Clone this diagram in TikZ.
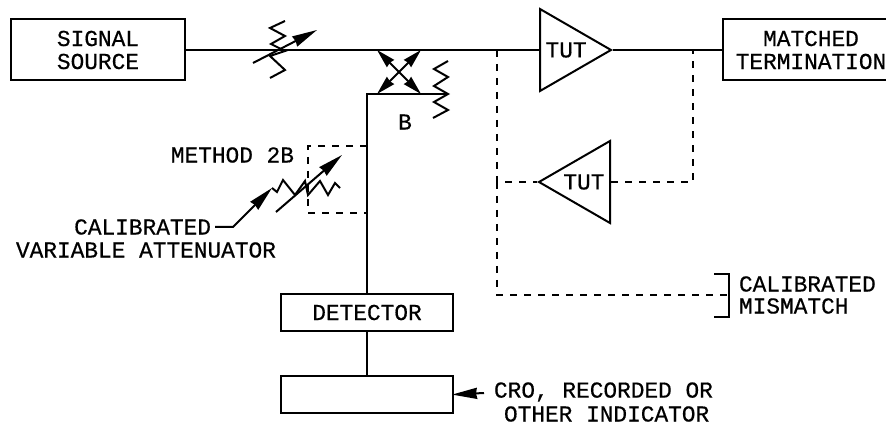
\documentclass[tikz,border=0pt]{standalone}
\usepackage{fontspec}
\newfontfamily\drawfont[RawFeature={embolden=0.5}]{Liberation Mono}
\usetikzlibrary{arrows.meta,positioning,shapes.geometric}
\newcommand{\lblfont}{\fontsize{22.8}{23}\selectfont\drawfont}
\begin{document}
\begin{tikzpicture}[x=1pt, y=-1pt, line width=2pt,
  boxnode/.style={draw, inner sep=0pt, align=center, font=\lblfont},
  lbl/.style={inner sep=0pt, align=center, font=\lblfont},
  amp/.style={draw, isosceles triangle, isosceles triangle apex angle=59,
              isosceles triangle stretches, minimum width=82pt, minimum height=71pt,
              inner sep=0pt, font=\lblfont},
  dashline/.style={dash pattern=on 7pt off 7pt},
  tip/.style={-{Stealth[length=25pt,width=11pt,inset=1pt]}},
  tips/.style={{Stealth[length=19pt,width=10pt,inset=1pt]}-{Stealth[length=19pt,width=10pt,inset=1pt]}}
]
  \useasboundingbox (0,0) rectangle (886,427);

  % boxes
  \node[boxnode, minimum width=174pt, minimum height=61pt] (sig) at (98,50) {SIGNAL\\SOURCE};
  \node[boxnode, minimum width=176pt, minimum height=61pt] (term) at (811,50) {MATCHED\\TERMINATION};
  \node[boxnode, minimum width=172pt, minimum height=37pt] (det) at (367,312.5) {DETECTOR};
  \node[boxnode, minimum width=172pt, minimum height=37pt, below=43pt of det] (ind) {};

  % amplifiers
  \node[amp, anchor=lower side] (tut) at (539,50) {TUT};
  \node[amp, shape border rotate=180, anchor=lower side] (tutb) at (611,182) {TUT};

  % coupler corners and junctions
  \coordinate (cnw) at (377,50);
  \coordinate (cne) at (421,50);
  \coordinate (csw) at (377,94);
  \coordinate (cse) at (421,94);
  \coordinate (bend) at (367,94);
  \coordinate (load) at (448,94);
  \coordinate (tapl) at (497,50);
  \coordinate (tapr) at (693,50);
  \coordinate (meth) at (367,146);
  \coordinate (methb) at (367,213);

  % main line
  \draw (sig.east) -- (tut.lower side);
  \draw (tut.apex) -- (term.west);
  \draw (det.north) -- (bend) -- (load);
  \draw (det.south) -- (ind.north);

  % coupler
  \draw[tips] (cnw) -- (cse);
  \draw[tips] (cne) -- (csw);
  \draw (448,61) -- (434,69) -- (448,77) -- (434,86) -- (load) -- (434,102) -- (448,110) -- (433,118);
  \node[lbl] (blbl) at (405,122) {B};

  % first attenuator
  \draw (285,21) -- (270,28) -- (285,36) -- (271,44) -- (285,51) -- (270,56) -- (285,70) -- (270,78);
  \draw[tip] (253,63) -- (317,30);

  % method 2B attenuator
  \draw[dashline] (meth) -- (308,146) -- (308,213) -- (methb);
  \draw (272,188) -- (277,192) -- (283,180) -- (295,195) -- (305,181) -- (308,195) -- (320,181) -- (328,195) -- (335,183) -- (340,188);
  \draw[tip] (276,212) -- (342,155);
  \node[lbl, anchor=east] (mlbl) at (295,155) {METHOD 2B};
  \node[lbl, anchor=east] (cal) at (212,227) {CALIBRATED};
  \node[lbl, anchor=west] (var) at (15,250) {VARIABLE ATTENUATOR};
  \draw[tip] ([xshift=3pt]cal.east) -- (233,227) -- (272,188);

  % calibrated mismatch
  \draw[dashline] (tapl) -- (497,182) -- (tutb.apex);
  \draw[dashline] (tutb.lower side) -- (693,182) -- (tapr);
  \draw[dashline] (497,182) -- (497,295) -- (729,295);
  \draw (714,274) -- (729,274) -- (729,317) -- (714,317);
  \node[lbl, anchor=west] (mis1) at (738,284) {CALIBRATED};
  \node[lbl, anchor=west] (mis2) at (738,306) {MISMATCH};

  % indicator
  \coordinate (crotail) at (484,393);
  \draw[tip, shorten >=-2pt] (crotail) -- (ind.east);
  \node[lbl, anchor=west] (cro1) at (493,392) {CRO, RECORDED OR};
  \node[lbl, anchor=west] (cro2) at (503,414) {OTHER INDICATOR};
\end{tikzpicture}
\end{document}
